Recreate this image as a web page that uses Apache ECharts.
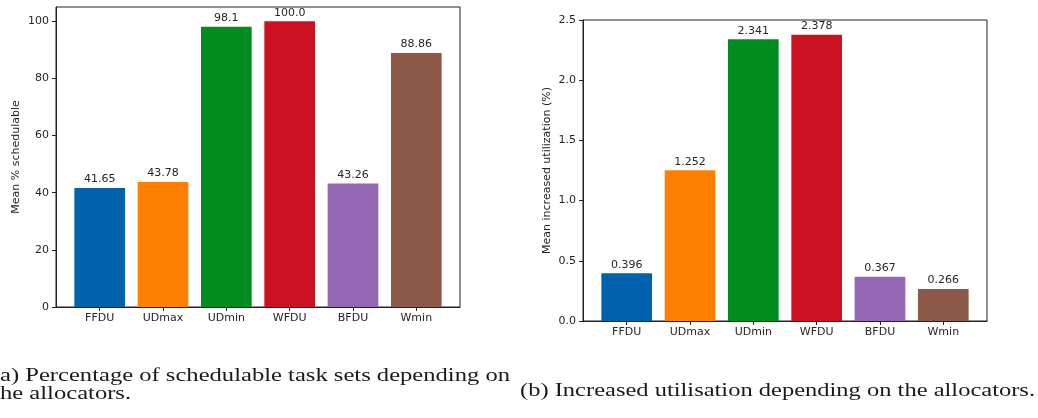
<!DOCTYPE html>
<html>
<head>
<meta charset="utf-8">
<script src="https://cdn.jsdelivr.net/npm/echarts@6/dist/echarts.min.js"></script>
<style>
html,body{margin:0;padding:0;background:#fff;}
#chart{width:1038px;height:418px;}
</style>
</head>
<body>
<div id="chart"></div>
<script>
// ---- data ----
const categories = ['FFDU', 'UDmax', 'UDmin', 'WFDU', 'BFDU', 'Wmin'];
const schedulable = [41.65, 43.78, 98.1, 100.0, 43.26, 88.86];
const increasedUtil = [0.396, 1.252, 2.341, 2.378, 0.367, 0.266];
const barColors = ['#0062ac', '#ff7f00', '#008c1e', '#cc1122', '#9467b5', '#8c5848'];
const yTicksA = [0, 20, 40, 60, 80, 100];
const yTicksB = [0, 0.5, 1.0, 1.5, 2.0, 2.5];
const captionA1 = 'a) Percentage of schedulable task sets depending on';
const captionA2 = 'he allocators.';
const captionB = '(b) Increased utilisation depending on the allocators.';

const TXT = '#262626';
const AX = '#222';
const FONT = 'DejaVu Sans';
const FS = 11;
const catIdx = categories.map((c, i) => i);

function pyStr(v) {
  return Number.isInteger(v) ? v.toFixed(1) : String(v);
}

function measure(text, font) {
  const c = document.createElement('canvas').getContext('2d');
  c.font = font;
  return c.measureText(text).width;
}

const capFont = '18px "Liberation Serif"';
function capText(text, x, y, targetW) {
  const w = measure(text, capFont);
  const sx = targetW / w;
  return {
    type: 'text', x: x, y: y, scaleX: sx, scaleY: 1,
    style: { text: text, font: capFont, fill: '#1a1a1a', align: 'left', verticalAlign: 'middle' }
  };
}

function xAxisFor(gi) {
  return {
    type: 'value', gridIndex: gi, min: -0.69, max: 5.69,
    axisLine: { show: true, onZero: false, lineStyle: { color: AX, width: 1 } },
    axisTick: { show: true, length: 4, inside: false, customValues: catIdx, lineStyle: { color: AX } },
    axisLabel: { show: true, customValues: catIdx, margin: 6, color: TXT, fontFamily: FONT, fontSize: FS,
      formatter: v => categories[Math.round(v)] },
    splitLine: { show: false }
  };
}

function yAxisFor(gi, max, interval, ticks, name, gap, fmt) {
  return {
    type: 'value', gridIndex: gi, min: 0, max: max, interval: interval,
    name: name, nameLocation: 'middle', nameGap: gap, nameRotate: 90,
    nameTextStyle: { color: TXT, fontFamily: FONT, fontSize: FS },
    axisLine: { show: true, onZero: false, lineStyle: { color: AX, width: 1 } },
    axisTick: { show: true, length: 4, customValues: ticks, lineStyle: { color: AX } },
    axisLabel: { show: true, customValues: ticks, margin: 7, color: TXT, fontFamily: FONT, fontSize: FS, formatter: fmt },
    splitLine: { show: false }
  };
}

function barSeries(gi, values) {
  return {
    type: 'bar', xAxisIndex: gi, yAxisIndex: gi,
    barWidth: '80%',
    data: values.map((v, i) => ({ value: [i, v], itemStyle: { color: barColors[i] } })),
    label: { show: true, position: 'top', distance: 3, color: TXT, fontFamily: FONT, fontSize: FS,
      formatter: p => pyStr(p.value[1]) },
    animation: false
  };
}

const chart = echarts.init(document.getElementById('chart'), null, { renderer: 'canvas' });
chart.setOption({
  backgroundColor: '#fff',
  animation: false,
  grid: [
    { left: 56, top: 7, width: 404, height: 300, show: true, borderColor: AX, borderWidth: 1, backgroundColor: 'transparent' },
    { left: 583, top: 20, width: 404, height: 301, show: true, borderColor: AX, borderWidth: 1, backgroundColor: 'transparent' }
  ],
  xAxis: [xAxisFor(0), xAxisFor(1)],
  yAxis: [
    yAxisFor(0, 105, 20, yTicksA, 'Mean % schedulable', 34, v => String(v)),
    yAxisFor(1, 2.5, 0.5, yTicksB, 'Mean increased utilization (%)', 30, v => v.toFixed(1))
  ],
  series: [barSeries(0, schedulable), barSeries(1, increasedUtil)],
  graphic: [
    capText(captionA1, 0, 376, 510),
    capText(captionA2, 0, 394.5, measure(captionA2, capFont) * 510 / measure(captionA1, capFont)),
    capText(captionB, 520, 391, 515)
  ]
});
</script>
</body>
</html>
